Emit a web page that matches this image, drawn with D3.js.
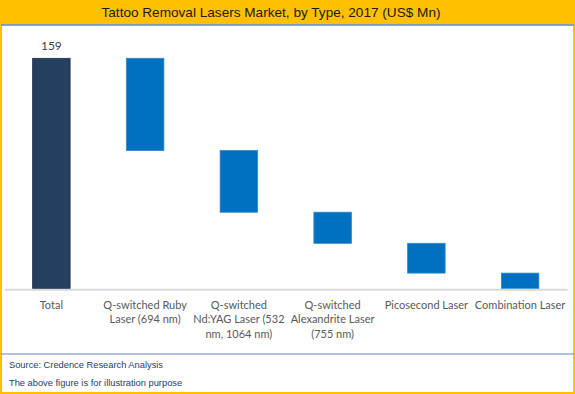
<!DOCTYPE html>
<html>
<head>
<meta charset="utf-8">
<script src="https://cdn.jsdelivr.net/npm/d3@7"></script>
<style>
  body { margin: 0; background: #fff; }
  svg { display: block; }
</style>
</head>
<body>
<script>
// Chart data
var categories = ["Total", "Q-switched Ruby Laser (694 nm)", "Q-switched Nd:YAG Laser (532 nm, 1064 nm)",
    "Q-switched Alexandrite Laser (755 nm)", "Picosecond Laser", "Combination Laser"];
var tickLines = [
    ["Total"],
    ["Q-switched Ruby", "Laser (694 nm)"],
    ["Q-switched", "Nd:YAG Laser (532", "nm, 1064 nm)"],
    ["Q-switched", "Alexandrite Laser", "(755 nm)"],
    ["Picosecond Laser"],
    ["Combination Laser"]
];
var values = [159, 63.8, 42.6, 21.5, 20.6, 10.5];
var totalLabel = "159";

var svgWidth = 575;
var svgHeight = 394;

// Plot area
var plot = { left: 4.5, right: 567, top: 58.3, bottom: 288.3 };

var svg = d3.select('body')
    .append('svg')
    .attr('width', svgWidth)
    .attr('height', svgHeight);

// Background + yellow frame
svg.append('rect')
    .attr('x', 1).attr('y', 1)
    .attr('width', svgWidth - 2).attr('height', svgHeight - 2)
    .attr('fill', '#fff')
    .attr('stroke', '#FFC000')
    .attr('stroke-width', 2);

// Title band
svg.append('rect')
    .attr('x', 0).attr('y', 0)
    .attr('width', svgWidth).attr('height', 24.5)
    .attr('fill', '#FFC000');
svg.append('line')
    .attr('x1', 1).attr('x2', svgWidth - 1)
    .attr('y1', 25).attr('y2', 25)
    .attr('stroke', '#5B86BE')
    .attr('stroke-width', 1.5);
svg.append('text')
    .attr('x', 271).attr('y', 16.8)
    .attr('text-anchor', 'middle')
    .attr('font-family', 'Liberation Sans, Arial, sans-serif')
    .attr('font-size', '13.6px')
    .attr('fill', '#1a1a1a')
    .text('Tattoo Removal Lasers Market, by Type, 2017 (US$ Mn)');

// Scales
var xScale = d3.scaleBand()
    .domain(categories)
    .range([plot.left, plot.right])
    .paddingInner(0.6)
    .paddingOuter(0.3);
var yScale = d3.scaleLinear()
    .domain([0, values[0]])
    .range([plot.bottom, plot.top]);

// Waterfall segments
var remaining = values[0];
var bars = values.map(function(v, i) {
    if (i === 0) return { cat: categories[i], top: v, base: 0, total: true };
    var seg = { cat: categories[i], top: remaining, base: remaining - v, total: false };
    remaining -= v;
    return seg;
});

// Baseline axis
var xAxis = d3.axisBottom(xScale).tickSize(0).tickFormat('');
var axisG = svg.append('g')
    .attr('transform', `translate(0, ${plot.bottom + 1})`)
    .call(xAxis);
axisG.select('.domain')
    .attr('stroke', '#D9D9D9')
    .attr('stroke-width', 2);

// Bars
svg.selectAll('rect.bar')
    .data(bars)
    .enter()
    .append('rect')
    .attr('class', 'bar')
    .attr('x', d => xScale(d.cat))
    .attr('y', d => yScale(d.top))
    .attr('width', xScale.bandwidth())
    .attr('height', d => yScale(d.base) - yScale(d.top))
    .attr('fill', d => d.total ? '#243F60' : '#0070C0')
    .attr('stroke', d => d.total ? '#1D3452' : '#2F86CC')
    .attr('stroke-width', 0.8);

// Total value label
svg.append('text')
    .attr('x', xScale(categories[0]) + xScale.bandwidth() / 2)
    .attr('y', yScale(values[0]) - 8)
    .attr('text-anchor', 'middle')
    .attr('font-family', 'Lato, sans-serif')
    .attr('font-size', '12px')
    .attr('fill', '#404040')
    .text(totalLabel);

// Category labels
var labels = svg.selectAll('text.cat')
    .data(categories)
    .enter()
    .append('text')
    .attr('class', 'cat')
    .attr('text-anchor', 'middle')
    .attr('font-family', 'Lato, sans-serif')
    .attr('font-size', '11px')
    .attr('fill', '#595959');
labels.each(function(c, i) {
    var t = d3.select(this);
    tickLines[i].forEach(function(line, j) {
        t.append('tspan')
            .attr('x', xScale(c) + xScale.bandwidth() / 2)
            .attr('y', 309 + j * 14.3)
            .text(line);
    });
});

// Footer
svg.append('line')
    .attr('x1', 1).attr('x2', svgWidth - 1)
    .attr('y1', 354).attr('y2', 354)
    .attr('stroke', '#5B86BE')
    .attr('stroke-width', 1);
svg.append('text')
    .attr('x', 9).attr('y', 367.5)
    .attr('font-family', 'Liberation Sans, Arial, sans-serif')
    .attr('font-size', '9.3px')
    .attr('fill', '#254061')
    .text('Source: Credence Research Analysis');
svg.append('text')
    .attr('x', 9).attr('y', 386)
    .attr('font-family', 'Liberation Sans, Arial, sans-serif')
    .attr('font-size', '9.3px')
    .attr('fill', '#254061')
    .text('The above figure is for illustration purpose');
</script>
</body>
</html>
